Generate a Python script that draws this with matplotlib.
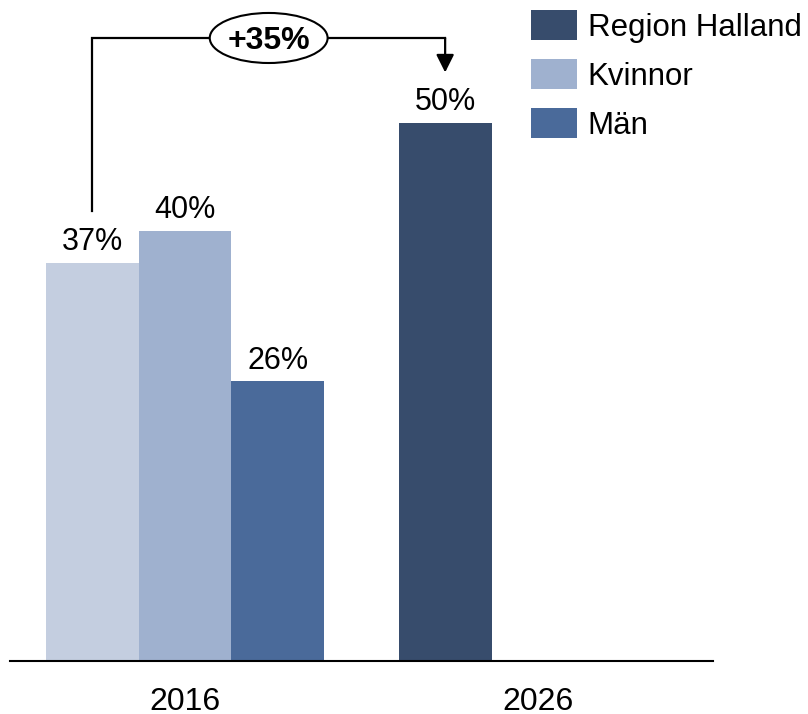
import matplotlib
matplotlib.use("Agg")
import matplotlib.pyplot as plt
from matplotlib.patches import Patch, Ellipse
import numpy as np

plt.rcParams['font.family'] = ['Liberation Sans', 'DejaVu Sans']

# Data
years = ["2016", "2026"]
region_halland = [37, 50]
kvinnor = [40, np.nan]
man = [26, np.nan]
change_label = "+35%"

series_names = ["Region Halland", "Kvinnor", "Män"]
region_colors = ["#c4cee0", "#374c6c"]   # 2016 value drawn lighter
kvinnor_color = "#9fb1cf"
man_color = "#4a6a9a"

fig = plt.figure(figsize=(8.08, 7.14), dpi=100)
ax = fig.add_axes([10 / 808, 1 - 661 / 714, 703 / 808, 661 / 714])

x = np.arange(len(years))
w = 0.263

ax.bar(x - w, region_halland, width=w, color=region_colors, zorder=2)
ax.bar(x, kvinnor, width=w, color=kvinnor_color, zorder=2)
ax.bar(x + w, man, width=w, color=man_color, zorder=2)

# Value labels
def label(xpos, val):
    if np.isnan(val):
        return
    ax.annotate(f"{val:.0f}%", xy=(xpos, val), xytext=(0, 4),
                textcoords="offset points", ha="center", va="bottom",
                fontsize=22, color="black")

for i in range(len(years)):
    label(x[i] - w, region_halland[i])
    label(x[i], kvinnor[i])
    label(x[i] + w, man[i])

ax.set_xlim(-0.496, 1.496)
ax.set_ylim(0, 61.43)

ax.set_xticks(x)
ax.set_xticklabels(years, fontsize=23)
ax.tick_params(axis="x", length=0, pad=19)
ax.set_yticks([])
for side in ["left", "right", "top"]:
    ax.spines[side].set_visible(False)
ax.spines["bottom"].set_color("black")
ax.spines["bottom"].set_linewidth(1.5)
ax.spines["bottom"].set_zorder(3)

# Growth bracket from the 2016 Region Halland bar to the 2026 bar
x_start = x[0] - w
x_end = x[1] - w
y_start = 41.8
y_top = 57.9
y_tip = 54.7
ax.plot([x_start, x_start, x_end], [y_start, y_top, y_top],
        color="black", lw=1.6, clip_on=False, zorder=4,
        solid_joinstyle="miter")
ax.annotate("", xy=(x_end, y_tip), xytext=(x_end, y_top),
            arrowprops=dict(arrowstyle="-|>,head_length=0.6,head_width=0.3",
                            mutation_scale=18, lw=1.6, color="black",
                            shrinkA=0, shrinkB=0),
            annotation_clip=False, zorder=4)
x_mid = (x_start + x_end) / 2
ax.add_patch(Ellipse((x_mid, y_top), width=0.334, height=4.65,
                     facecolor="white", edgecolor="black", lw=1.5,
                     zorder=5, clip_on=False))
ax.text(x_mid, y_top, change_label, ha="center", va="center_baseline",
        fontsize=23, fontweight="bold", zorder=6)

# Legend
handles = [Patch(facecolor=region_colors[1]),
           Patch(facecolor=kvinnor_color),
           Patch(facecolor=man_color)]
fig.legend(handles, series_names, loc="upper left",
           bbox_to_anchor=(531 / 808, 1 - 10 / 714), frameon=False,
           fontsize=22.5, handlelength=1.47, handleheight=1.09,
           handletextpad=0.35, labelspacing=0.53, borderpad=0,
           borderaxespad=0)

fig.savefig("out.png", dpi=100)
